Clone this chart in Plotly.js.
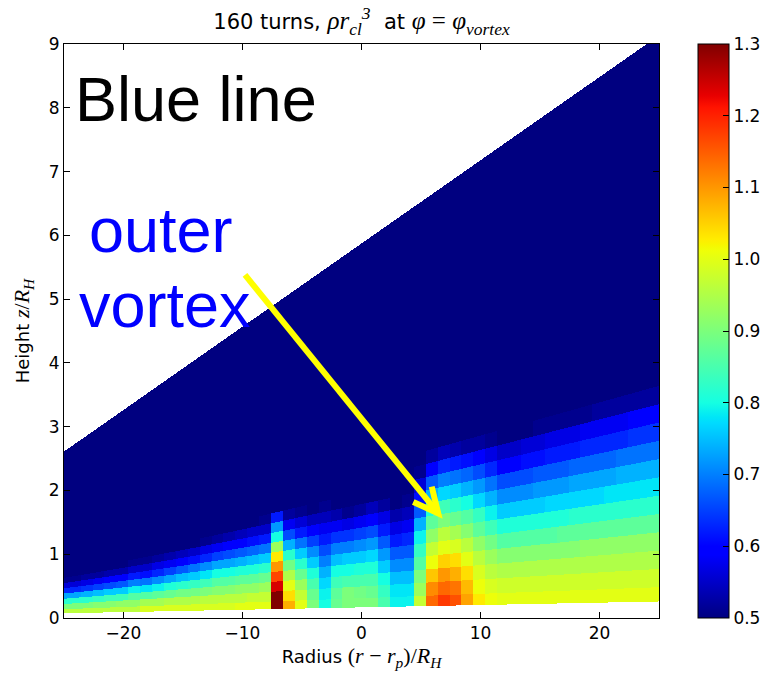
<!DOCTYPE html>
<html>
<head>
<meta charset="utf-8">
<script src="https://cdn.plot.ly/plotly-3.0.1.min.js"></script>
<style>
  html, body { margin: 0; padding: 0; background: #ffffff; }
  #chart { width: 764px; height: 675px; }
</style>
</head>
<body>
<div id="chart"></div>
<script>
// Radial centres of the simulation columns, (r - r_p)/R_H
const radiusCentres = [
  -24.1, -23.1, -22.1, -21.1, -20.1, -19.1, -18.1, -17.1, -16.1, -15.1,
  -14.1, -13.1, -12.1, -11.1, -10.1, -9.1, -8.1, -7.1, -6.1, -5.1,
  -4.1, -3.1, -2.1, -1.1, -0.1, 0.9, 1.9, 2.9, 3.9, 4.9,
  5.9, 6.9, 7.9, 8.9, 9.9, 10.9, 11.9, 12.9, 13.9, 14.9,
  15.9, 16.9, 17.9, 18.9, 19.9, 20.9, 21.9, 22.9, 23.9, 24.9
];

// Density rho*r_cl^3 per polar-angle band, band 0 sits on the midplane
const band0 = [.96,.96,.96,.96,.96,.96,.99,.99,.99,.99, .99,.99,.99,.99,1.0,1.0,1.0,1.32,1.08,1.0, .90,.80,.88,.90,.90,.90,.85,.79,.79,.97, 1.14,1.18,1.16,1.09,1.03,1.01,1.0,1.0,1.0,1.0, 1.0,1.0,1.0,1.0,1.0,1.0,1.0,1.0,1.0,1.0];
const band1 = [.90,.90,.91,.91,.92,.92,.94,.94,.95,.95, .95,.96,.96,.96,.96,.97,.97,1.30,1.04,.97, .88,.79,.87,.90,.89,.88,.83,.78,.78,.93, 1.11,1.14,1.13,1.07,1.01,.99,.98,.98,.98,.98, .98,.98,.98,.98,.98,.98,.98,.98,.98,.98];
const band2 = [.82,.82,.83,.84,.84,.86,.86,.87,.88,.89, .89,.90,.91,.91,.92,.92,.93,1.24,1.00,.93, .85,.77,.84,.85,.85,.85,.80,.75,.75,.90, 1.06,1.10,1.08,1.04,.99,.96,.95,.95,.95,.95, .95,.95,.95,.95,.95,.95,.95,.95,.95,.95];
const band3 = [.73,.74,.75,.76,.76,.79,.78,.79,.81,.82, .83,.84,.86,.86,.87,.87,.88,1.17,.95,.88, .81,.74,.80,.80,.81,.81,.76,.71,.71,.86, 1.01,1.05,1.04,1.00,.96,.93,.91,.91,.91,.91, .91,.91,.91,.92,.92,.92,.92,.92,.92,.92];
const band4 = [.63,.64,.65,.66,.67,.70,.69,.71,.73,.75, .76,.78,.80,.80,.81,.81,.82,1.10,.89,.82, .76,.70,.75,.76,.76,.77,.72,.67,.67,.83, .97,1.00,.99,.96,.92,.89,.86,.86,.86,.86, .86,.87,.87,.87,.87,.87,.87,.87,.87,.87];
const band5 = [.56,.57,.58,.59,.59,.62,.61,.63,.65,.67, .69,.71,.73,.73,.74,.75,.76,1.03,.82,.76, .71,.66,.70,.70,.71,.72,.67,.62,.63,.79, .92,.96,.94,.91,.87,.84,.81,.81,.81,.81, .81,.81,.82,.82,.82,.82,.82,.82,.82,.82];
const band6 = [.51,.52,.52,.53,.53,.55,.55,.57,.58,.60, .61,.63,.65,.66,.67,.68,.69,.93,.74,.69, .65,.62,.64,.64,.65,.66,.62,.57,.58,.74, .87,.90,.88,.86,.83,.79,.76,.76,.76,.76, .77,.77,.77,.77,.77,.78,.78,.78,.78,.78];
const band7 = [.48,.48,.49,.49,.50,.51,.51,.52,.53,.54, .55,.57,.58,.59,.60,.61,.62,.80,.66,.62, .59,.58,.58,.57,.58,.60,.57,.53,.54,.67, .81,.84,.82,.80,.77,.74,.71,.71,.71,.72, .72,.72,.73,.73,.73,.73,.74,.74,.74,.74];
const band8 = [.46,.46,.46,.47,.47,.48,.48,.48,.49,.50, .50,.51,.52,.53,.54,.55,.55,.72,.58,.56, .54,.54,.53,.51,.52,.54,.52,.50,.51,.61, .74,.77,.76,.74,.72,.69,.66,.66,.66,.67, .67,.67,.68,.68,.68,.68,.69,.69,.69,.69];
const band9 = [.45,.45,.45,.45,.46,.46,.46,.46,.47,.47, .48,.48,.49,.49,.50,.50,.51,.62,.52,.51, .50,.51,.50,.48,.49,.50,.49,.47,.48,.56, .67,.70,.69,.68,.66,.63,.60,.60,.61,.61, .62,.62,.62,.63,.63,.63,.63,.64,.64,.64];
const band10 = [.45,.45,.45,.45,.45,.45,.45,.45,.45,.45, .46,.46,.46,.46,.46,.47,.47,.50,.48,.47, .47,.48,.47,.46,.46,.47,.46,.45,.46,.51, .60,.63,.62,.61,.60,.57,.55,.55,.56,.56, .57,.57,.57,.58,.58,.58,.58,.59,.59,.59];
const band11 = [.45,.45,.45,.45,.45,.45,.45,.45,.45,.45, .45,.45,.45,.45,.45,.45,.45,.46,.45,.45, .45,.45,.45,.45,.45,.45,.45,.45,.45,.47, .52,.54,.53,.52,.52,.51,.50,.50,.50,.51, .51,.51,.51,.51,.52,.52,.52,.52,.52,.52];
const band12 = [.45,.45,.45,.45,.45,.45,.45,.45,.45,.45, .45,.45,.45,.45,.45,.45,.45,.45,.45,.45, .45,.45,.45,.45,.45,.45,.45,.45,.45,.45, .48,.49,.49,.48,.48,.48,.47,.47,.47,.48, .48,.48,.48,.48,.49,.49,.49,.49,.49,.49];
const band13 = [.45,.45,.45,.45,.45,.45,.45,.45,.45,.45, .45,.45,.45,.45,.45,.45,.45,.45,.45,.45, .45,.45,.45,.45,.45,.45,.45,.45,.45,.45, .46,.47,.46,.46,.46,.46,.46,.46,.46,.46, .46,.46,.47,.47,.47,.47,.47,.47,.47,.47];
const densityBands = [band0, band1, band2, band3, band4, band5, band6,
                      band7, band8, band9, band10, band11, band12, band13];

// Density of the thin upper atmosphere above the listed bands
const atmosphereDensity = 0.45;

// Axis and colour bar ticks
const colorTicks = [0.5, 0.6, 0.7, 0.8, 0.9, 1.0, 1.1, 1.2, 1.3];
const colorTickText = ['0.5', '0.6', '0.7', '0.8', '0.9', '1.0', '1.1', '1.2', '1.3'];
const radiusTicks = [-20, -10, 0, 10, 20];
const heightTicks = [0, 1, 2, 3, 4, 5, 6, 7, 8, 9];

// Spherical grid geometry in units of R_H: the star sits at r = -planetRadius,
// polar bands are cones z = (r + planetRadius) * tan
const planetRadius = 45;
const bandTanStart = 0.0028;
const bandTanStep = 0.0041;
const tanLowerEdge = 0.0037;
const tanUpperEdge = 0.1305;

// Resample the spherical cells onto a fine cartesian raster for the heatmap
const nx = 595, ny = 574;
const xs = [], ys = [];
for (let i = 0; i < nx; i++) xs.push(-25 + (i + 0.5) * 50 / nx);
for (let j = 0; j < ny; j++) ys.push((j + 0.5) * 9 / ny);

function columnIndex(x) {
  let best = 0, bestDist = Infinity;
  for (let k = 0; k < radiusCentres.length; k++) {
    const d = Math.abs(radiusCentres[k] - x);
    if (d < bestDist) { bestDist = d; best = k; }
  }
  return best;
}
const xCols = xs.map(columnIndex);

const zGrid = ys.map(zz => xs.map((xx, i) => {
  const t = zz / (planetRadius + xx);
  if (t < tanLowerEdge || t > tanUpperEdge) return null;
  const band = Math.floor((t - bandTanStart) / bandTanStep);
  if (band >= densityBands.length) return atmosphereDensity;
  return densityBands[band][xCols[i]];
}));

// matplotlib "jet"
const jet = [
  [0.000, 'rgb(0,0,128)'], [0.110, 'rgb(0,0,255)'], [0.125, 'rgb(0,0,255)'],
  [0.340, 'rgb(0,219,255)'], [0.350, 'rgb(0,230,247)'], [0.375, 'rgb(21,255,226)'],
  [0.640, 'rgb(239,255,8)'], [0.650, 'rgb(247,246,0)'], [0.660, 'rgb(255,236,0)'],
  [0.890, 'rgb(255,19,0)'], [0.910, 'rgb(232,0,0)'], [1.000, 'rgb(128,0,0)']
];

const tickFont = { family: 'DejaVu Sans', size: 17, color: '#000' };
const labelFont = { family: 'DejaVu Sans', size: 18, color: '#000' };
const mathSpan = (s, px) =>
  '<span style="font-family:Liberation Serif;font-size:' + px + 'px">' + s + '</span>';

const trace = {
  type: 'heatmap',
  x: xs, y: ys, z: zGrid,
  zmin: 0.5, zmax: 1.3, zsmooth: false,
  colorscale: jet,
  hoverinfo: 'skip',
  colorbar: {
    xref: 'container', x: 698 / 764, xanchor: 'left', xpad: 0,
    y: 0.5, yanchor: 'middle', ypad: 0,
    len: 574, lenmode: 'pixels',
    thickness: 31, thicknessmode: 'pixels',
    outlinewidth: 1, outlinecolor: '#000',
    tickvals: colorTicks, ticktext: colorTickText,
    ticks: 'inside', ticklen: 6, tickcolor: '#000', tickwidth: 1,
    tickfont: tickFont
  }
};

const axisStyle = {
  showgrid: false, zeroline: false,
  showline: true, linecolor: '#000', linewidth: 1, mirror: 'ticks',
  ticks: 'inside', ticklen: 6, tickwidth: 1, tickcolor: '#000',
  tickfont: tickFont
};

const arrowColor = '#ffff00';
const noteFont = { family: 'Liberation Sans', size: 63 };

const layout = {
  width: 764, height: 675,
  margin: { l: 64, r: 105, t: 44, b: 57 },
  paper_bgcolor: '#fff', plot_bgcolor: '#fff',
  font: { family: 'DejaVu Sans', color: '#000' },
  title: {
    text: '160 turns, ' + mathSpan('<i>ρr<sub>cl</sub><sup>3</sup></i>', 25) + '  at ' +
          mathSpan('<i>φ</i> = <i>φ<sub>vortex</sub></i>', 25),
    x: 0.5, xref: 'paper', xanchor: 'center',
    y: 1 - 22 / 675, yref: 'container', yanchor: 'middle',
    font: { family: 'DejaVu Sans', size: 21, color: '#000' }
  },
  xaxis: Object.assign({}, axisStyle, {
    range: [-25, 25], tickvals: radiusTicks,
    title: { text: 'Radius ' + mathSpan('(<i>r</i> − <i>r<sub>p</sub></i>)/<i>R<sub>H</sub></i>', 22),
             font: labelFont, standoff: 6 }
  }),
  yaxis: Object.assign({}, axisStyle, {
    range: [0, 9], tickvals: heightTicks,
    title: { text: 'Height ' + mathSpan('<i>z</i>/<i>R<sub>H</sub></i>', 22),
             font: labelFont, standoff: 14 }
  }),
  annotations: [
    { text: 'Blue line', xref: 'x', yref: 'y', x: -24.25, y: 8.14,
      xanchor: 'left', yanchor: 'middle', showarrow: false,
      font: Object.assign({}, noteFont, { color: '#000' }) },
    { text: 'outer', xref: 'x', yref: 'y', x: -23.1, y: 6.08,
      xanchor: 'left', yanchor: 'middle', showarrow: false,
      font: Object.assign({}, noteFont, { color: '#0000ff' }) },
    { text: 'vortex', xref: 'x', yref: 'y', x: -23.95, y: 4.91,
      xanchor: 'left', yanchor: 'middle', showarrow: false,
      font: Object.assign({}, noteFont, { color: '#0000ff' }) }
  ],
  shapes: [
    { type: 'line', xref: 'x', yref: 'y', x0: -9.79, y0: 5.38, x1: 6.45, y1: 1.64,
      line: { color: arrowColor, width: 6 } },
    { type: 'path', xref: 'x', yref: 'y', path: 'M 4.35 1.82 L 6.45 1.64 L 5.9 2.06',
      line: { color: arrowColor, width: 6 } }
  ]
};

Plotly.newPlot('chart', [trace], layout, { displayModeBar: false, staticPlot: true });
</script>
</body>
</html>
